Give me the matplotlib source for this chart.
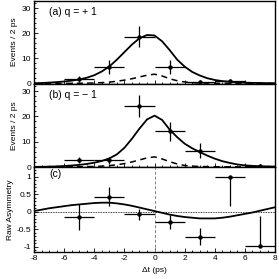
import numpy as np
import matplotlib
matplotlib.use('Agg')
import matplotlib.pyplot as plt
from matplotlib.ticker import MultipleLocator

plt.rcParams['font.family'] = ['Liberation Sans', 'DejaVu Sans']
plt.rcParams['axes.unicode_minus'] = False

# curve sample grid (ps)
t = np.arange(-8, 8.01, 0.5)

# (a) q = +1
a_x = [-5, -3, -1, 1, 3, 5]
a_y = [1.6, 6.6, 18.7, 6.5, 0.6, 0.8]
a_err = [1.2, 2.9, 4.3, 2.7, 0.8, 0.8]
a_fit = [0.1, 0.2, 0.35, 0.55, 0.8, 1.15, 1.6, 2.3, 3.3, 4.8, 6.8, 9.5, 12.5, 15.5,
         18.0, 19.3, 19.1, 16.8, 13.3, 9.5, 6.7, 4.6, 3.2, 2.1, 1.4, 0.95, 0.7,
         0.5, 0.35, 0.25, 0.2, 0.15, 0.1]
a_bkg = [0.0, 0.0, 0.02, 0.03, 0.05, 0.07, 0.1, 0.15, 0.2, 0.35, 0.55, 0.9, 1.35, 1.9,
         2.6, 3.3, 3.7, 3.0, 1.9, 1.1, 0.6, 0.35, 0.2, 0.15, 0.1, 0.07, 0.05,
         0.04, 0.03, 0.02, 0.02, 0.01, 0.0]

# (b) q = -1
b_x = [-5, -3, -1, 1, 3, 7]
b_y = [2.7, 2.6, 24.0, 14.1, 6.5, 0.5]
b_err = [1.3, 1.3, 4.3, 3.7, 2.8, 0.6]
b_fit = [0.05, 0.1, 0.15, 0.25, 0.4, 0.6, 0.85, 1.2, 1.7, 2.4, 3.4, 5.0, 7.6, 11.2,
         15.2, 18.8, 20.3, 18.6, 14.8, 11.8, 9.2, 7.4, 5.9, 4.5, 3.3, 2.3, 1.6,
         1.0, 0.65, 0.45, 0.3, 0.2, 0.15]
b_bkg = [0.0, 0.0, 0.02, 0.03, 0.05, 0.07, 0.1, 0.15, 0.2, 0.35, 0.55, 0.9, 1.35, 2.0,
         2.8, 3.6, 4.0, 3.2, 2.1, 1.2, 0.6, 0.35, 0.2, 0.15, 0.1, 0.07, 0.05,
         0.04, 0.03, 0.02, 0.02, 0.01, 0.0]

# (c) raw asymmetry
c_x = [-5, -3, -1, 1, 3, 5, 7]
c_y = [-0.16, 0.43, -0.07, -0.3, -0.71, 1.0, -0.97]
c_lo = [0.37, 0.27, 0.16, 0.2, 0.24, 0.83, 0.0]
c_hi = [0.37, 0.27, 0.16, 0.2, 0.24, 0.0, 0.86]
c_fit = [0.02, 0.06, 0.1, 0.13, 0.16, 0.19, 0.21, 0.23, 0.25, 0.26, 0.26, 0.24, 0.21,
         0.17, 0.12, 0.07, 0.02, -0.03, -0.08, -0.12, -0.15, -0.17, -0.19, -0.19,
         -0.19, -0.17, -0.14, -0.1, -0.06, -0.02, 0.03, 0.08, 0.13]

fig = plt.figure(figsize=(2.79, 2.79), dpi=100)
left, width = 0.122, 0.864
ax_a = fig.add_axes([left, 0.7007, width, 0.2973])
ax_b = fig.add_axes([left, 0.4014, width, 0.2993])
ax_c = fig.add_axes([left, 0.0968, width, 0.3046])

ebkw = dict(fmt='o', color='k', ms=2.2, elinewidth=0.9, capsize=0)

for ax, xs, ys, es, fit, bkg, lab in [(ax_a, a_x, a_y, a_err, a_fit, a_bkg, '(a) q = + 1'),
                                      (ax_b, b_x, b_y, b_err, b_fit, b_bkg, '(b) q = \u2212 1')]:
    ax.plot(t, fit, color='k', lw=1.3)
    ax.plot(t, bkg, color='k', lw=1.1, ls=(0, (4, 3)))
    ax.errorbar(xs, ys, yerr=es, xerr=1, **ebkw)
    ax.set_ylim(0, 33)
    ax.set_yticks([0, 10, 20, 30])
    ax.yaxis.set_minor_locator(MultipleLocator(2))
    ax.set_ylabel('Events / 2 ps', fontsize=6, labelpad=3)
    ax.text(-7.0, 28.5, lab, fontsize=7.5, va='center')
    ax.set_xticklabels([])

ax_c.axhline(0, color='k', lw=0.6, ls=(0, (1, 1)))
ax_c.axvline(0, color='gray', lw=0.7, ls=(0, (3, 2)))
ax_c.plot(t, c_fit, color='k', lw=1.3)
ax_c.errorbar(c_x, c_y, yerr=[c_lo, c_hi], xerr=1, **ebkw)
ax_c.set_ylim(-1.15, 1.28)
ax_c.set_yticks([-1, -0.5, 0, 0.5, 1])
ax_c.set_yticklabels(['-1', '-0.5', '0', '0.5', '1'])
ax_c.yaxis.set_minor_locator(MultipleLocator(0.1))
ax_c.set_ylabel('Raw Asymmetry', fontsize=6, labelpad=2)
ax_c.text(-7.0, 1.07, '(c)', fontsize=7.5, va='center')
ax_c.set_xlabel('\u0394t (ps)', fontsize=6, labelpad=4)

for ax in (ax_a, ax_b, ax_c):
    ax.set_xlim(-8, 8)
    ax.set_xticks(np.arange(-8, 9, 2))
    ax.xaxis.set_minor_locator(MultipleLocator(0.5))
    ax.tick_params(which='both', direction='in', labelsize=6, width=0.6, pad=2)
    ax.tick_params(which='major', length=3)
    ax.tick_params(which='minor', length=1.5)
    for s in ax.spines.values():
        s.set_linewidth(1.0)

fig.savefig('out.png', dpi=100)
